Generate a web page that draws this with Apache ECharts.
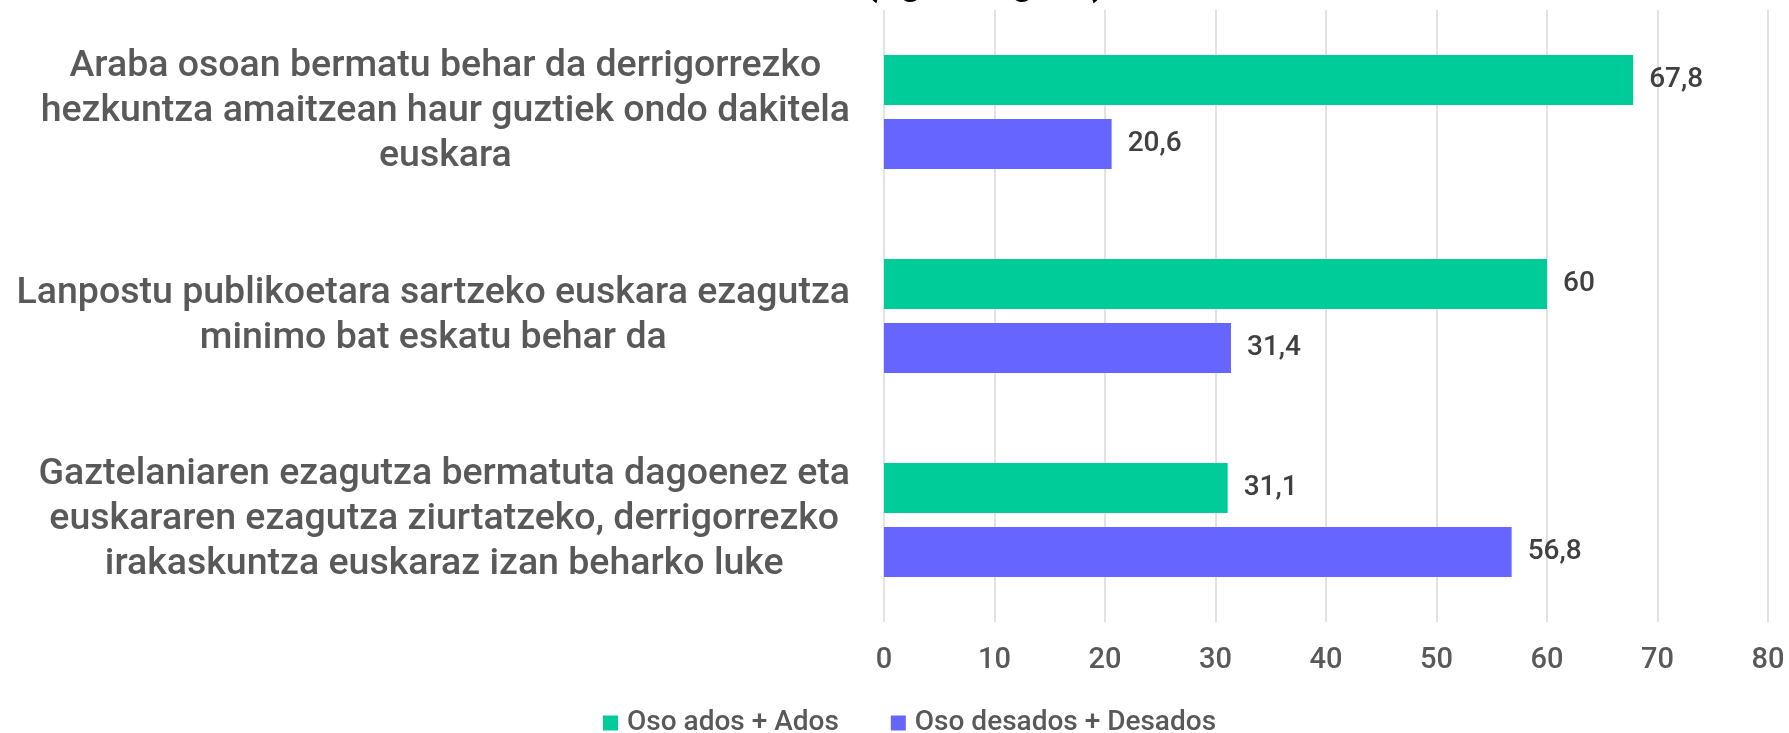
<!DOCTYPE html>
<html>
<head>
<meta charset="utf-8">
<script src="https://cdn.jsdelivr.net/npm/echarts@6/dist/echarts.min.js"></script>
<style>
  html, body { margin: 0; padding: 0; background: #ffffff; }
  #chart { width: 1789px; height: 733px; }
</style>
</head>
<body>
<div id="chart"></div>
<script>
// Statements (already broken into display lines)
var categories = [
  'Araba osoan bermatu behar da derrigorrezko\nhezkuntza amaitzean haur guztiek ondo dakitela\neuskara',
  'Lanpostu publikoetara sartzeko euskara ezagutza\nminimo bat eskatu behar da',
  'Gaztelaniaren ezagutza bermatuta dagoenez eta\neuskararen ezagutza ziurtatzeko, derrigorrezko\nirakaskuntza euskaraz izan beharko luke'
];
var seriesNames = ['Oso ados + Ados', 'Oso desados + Desados'];
var agreeValues = [67.8, 60, 31.1];
var disagreeValues = [20.6, 31.4, 56.8];
var xTicks = [0, 10, 20, 30, 40, 50, 60, 70, 80];
var titleText = '(egoera gaur)';

var FONT = 'Roboto, "Noto Sans", sans-serif';
var LABEL_SIZE = 37.5;
var LABEL_WEIGHT = 500;

// Multi-line category labels: block right-aligned to the axis, lines centred inside the block.
var measureCtx = document.createElement('canvas').getContext('2d');
measureCtx.font = LABEL_WEIGHT + ' ' + LABEL_SIZE + 'px ' + FONT;
var rich = {};
var labelText = categories.map(function (cat, ci) {
  var lines = cat.split('\n');
  var widths = lines.map(function (l) { return measureCtx.measureText(l).width; });
  var maxW = Math.max.apply(null, widths);
  return lines.map(function (l, li) {
    var key = 'c' + ci + 'l' + li;
    rich[key] = {
      fontSize: LABEL_SIZE, fontFamily: FONT, fontWeight: LABEL_WEIGHT,
      color: '#595959', lineHeight: 45,
      padding: [0, (maxW - widths[li]) / 2, 0, 0]
    };
    return '{' + key + '|' + l + '}';
  }).join('\n');
});

var chart = echarts.init(document.getElementById('chart'), null, { renderer: 'canvas' });

function commaLabel(p) { return String(p.value).replace('.', ','); }

var valueLabel = {
  show: true, position: 'right', distance: 16,
  fontFamily: FONT, fontSize: 28, fontWeight: 500, color: '#404040', formatter: commaLabel
};

chart.setOption({
  backgroundColor: '#ffffff',
  animation: false,
  title: {
    text: titleText,
    left: 980,
    textAlign: 'center',
    top: -41,
    textStyle: { fontFamily: FONT, fontSize: 40, lineHeight: 40, fontWeight: 500, color: '#000000' }
  },
  legend: {
    data: seriesNames,
    left: 598,
    top: 704,
    icon: 'rect',
    itemWidth: 15,
    itemHeight: 15,
    itemGap: 52,
    textStyle: { fontFamily: FONT, fontSize: 28, fontWeight: 500, color: '#595959', padding: [0, 0, 0, 4] }
  },
  grid: { left: 884, right: 21, top: 10, bottom: 111, containLabel: false },
  xAxis: {
    type: 'value',
    min: 0,
    max: 80,
    interval: 10,
    axisLine: { show: false },
    axisTick: { show: false },
    splitLine: { show: true, lineStyle: { color: '#d9d9d9', width: 1.5 } },
    axisLabel: {
      margin: 24,
      fontFamily: FONT, fontSize: 29, fontWeight: 500, color: '#595959',
      formatter: function (v) { return xTicks.indexOf(v) >= 0 ? String(v) : ''; }
    }
  },
  yAxis: {
    type: 'category',
    inverse: true,
    data: labelText,
    axisLine: { show: false },
    axisTick: { show: false },
    axisLabel: { margin: 34, align: 'right', rich: rich }
  },
  series: [
    {
      name: seriesNames[0],
      type: 'bar',
      data: agreeValues,
      barWidth: 50,
      barGap: '28%',
      itemStyle: { color: '#00cc99' },
      label: valueLabel
    },
    {
      name: seriesNames[1],
      type: 'bar',
      data: disagreeValues,
      barWidth: 50,
      barGap: '28%',
      itemStyle: { color: '#6666ff' },
      label: valueLabel
    }
  ]
});
</script>
</body>
</html>
